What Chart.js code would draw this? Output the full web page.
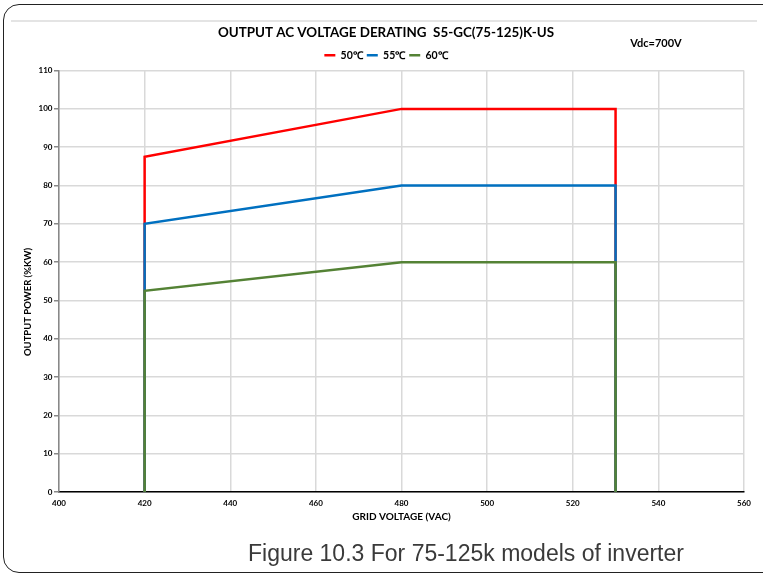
<!DOCTYPE html>
<html>
<head>
<meta charset="utf-8">
<title>Output AC voltage derating</title>
<script src="https://cdn.jsdelivr.net/npm/chart.js@4.4.1/dist/chart.umd.min.js"></script>
<style>
  html, body { margin: 0; padding: 0; background: #fff; }
  body { position: relative; width: 763px; height: 574px; overflow: hidden; }
  #frame {
    position: absolute; left: 3px; top: 4px; width: 790px; height: 569px;
    border: 1.5px solid #222; border-radius: 16px; box-sizing: border-box;
  }
  #rule { position: absolute; left: 11px; top: 20px; width: 746px; height: 2px; background: #e4e4e4; }
  #wrap { position: absolute; left: 0; top: 0; width: 763px; height: 574px; }
  #caption {
    position: absolute; left: 248px; top: 539px; white-space: nowrap;
    font-family: "Liberation Sans", Arial, sans-serif; font-size: 23px; line-height: 28px;
    color: #3a3a3a;
  }
</style>
</head>
<body>
<div id="frame"></div>
<div id="rule"></div>
<div id="wrap"><canvas id="chart" width="763" height="574"></canvas></div>
<div id="caption">Figure 10.3 For 75-125k models of inverter</div>
<script>
// grid voltage (VAC) at each corner of the derating curves
const voltages = [420, 420, 480, 530, 530];
// output power (%) per ambient temperature
const power50 = [0, 87.5, 100, 100, 0];
const power55 = [0, 70, 80, 80, 0];
const power60 = [0, 52.5, 60, 60, 0];

const seriesNames = ['50℃', '55℃', '60℃'];
const seriesColors = ['#ff0000', '#0070c0', '#548235'];

const xMin = 400, xMax = 560, xStep = 20;
const yMin = 0, yMax = 110, yStep = 10;

const chartTitle = 'OUTPUT AC VOLTAGE DERATING  S5-GC(75-125)K-US';
const xAxisTitle = 'GRID VOLTAGE (VAC)';
const yAxisTitle = 'OUTPUT POWER (%KW)';
const vdcNote = 'Vdc=700V';

const FONT = 'Lato, "Open Sans", sans-serif';

function toPoints(values) {
  return voltages.map((v, i) => ({ x: v, y: values[i] }));
}

// y title sits a bit below the plot middle, and the Vdc note top right
const extraText = {
  id: 'extraText',
  afterDraw(chart) {
    const ctx = chart.ctx;
    ctx.save();
    ctx.fillStyle = '#000';
    ctx.textAlign = 'center';
    ctx.textBaseline = 'middle';
    ctx.font = 'bold 9.5px ' + FONT;
    ctx.translate(28, 302);
    ctx.rotate(-Math.PI / 2);
    ctx.fillText(yAxisTitle, 0, 0);
    ctx.restore();

    ctx.save();
    ctx.fillStyle = '#000';
    ctx.textAlign = 'center';
    ctx.textBaseline = 'middle';
    ctx.font = 'bold 11px ' + FONT;
    ctx.fillText(vdcNote, 656, 43);
    ctx.restore();
  }
};

const allSeries = [power50, power55, power60];

new Chart(document.getElementById('chart'), {
  type: 'line',
  data: {
    datasets: allSeries.map((vals, i) => ({
      label: seriesNames[i],
      data: toPoints(vals),
      borderColor: seriesColors[i],
      backgroundColor: seriesColors[i],
      borderWidth: 2.5,
      pointRadius: 0,
      tension: 0,
      fill: false,
      // later temperatures drawn on top
      order: allSeries.length - i
    }))
  },
  options: {
    responsive: false,
    animation: false,
    layout: { padding: { top: 12, right: 19, bottom: 47, left: 28 } },
    plugins: {
      title: {
        display: true,
        text: chartTitle,
        color: '#000',
        font: { family: FONT, size: 13.4, weight: 'bold' },
        padding: { top: 13, bottom: 5 }
      },
      legend: {
        labels: {
          usePointStyle: true,
          pointStyle: 'line',
          pointStyleWidth: 11,
          padding: 4,
          color: '#000',
          font: { family: FONT, size: 10.5, weight: 'bold' },
          sort: (a, b) => a.datasetIndex - b.datasetIndex
        }
      },
      tooltip: { enabled: false }
    },
    scales: {
      x: {
        type: 'linear',
        min: xMin,
        max: xMax,
        ticks: {
          stepSize: xStep,
          padding: 2,
          color: '#000',
          font: { family: FONT, size: 8, weight: 'bold' }
        },
        grid: { color: '#d9d9d9', lineWidth: 1.5, tickLength: 5, tickColor: 'transparent' },
        border: { color: '#000', width: 1.5 },
        title: {
          display: true,
          text: xAxisTitle,
          color: '#000',
          font: { family: FONT, size: 10, weight: 'bold' },
          padding: { top: 0, bottom: 4.6 }
        },
        afterFit: (scale) => { scale.height = 35; }
      },
      y: {
        min: yMin,
        max: yMax,
        ticks: {
          stepSize: yStep,
          padding: 1.5,
          color: '#000',
          font: { family: FONT, size: 8, weight: 'bold' }
        },
        grid: { color: '#d9d9d9', lineWidth: 1.5, tickLength: 5, tickColor: '#888' },
        border: { color: '#888', width: 1.5 },
        afterFit: (scale) => { scale.width = 31; }
      }
    }
  },
  plugins: [extraText]
});
</script>
</body>
</html>
